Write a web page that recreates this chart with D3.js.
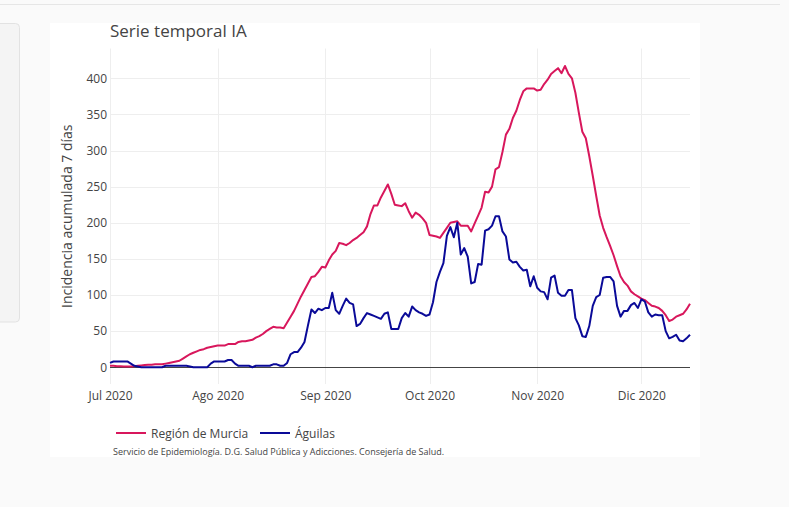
<!DOCTYPE html>
<html><head><meta charset="utf-8">
<script src="https://cdn.jsdelivr.net/npm/d3@7"></script>
<style>
html,body{margin:0;padding:0;background:#fafafa;}
svg{display:block;font-family:"Open Sans",sans-serif;}
</style></head>
<body>
<svg id="chart" width="789" height="507"></svg>
<script>
const startDate = "2020-07-01";
const murcia = [2,2,1.5,1.5,1,1,1,1.5,2,2.5,
3,3.5,3.5,4,4,4,5,6,7,8,
9,12,15,18,20,22,24,25,27,28,
29,30,30,30,32,32,32,35,36,36,
37,38,41,43,46,50,53,56,55,55,
54,62,70,78,88,98,107,116,125,126,
132,139,138,148,156,161,172,171,169,172,
176,179,183,187,195,212,224,224,235,244,
253,240,225,224,223,227,216,207,214,211,
206,200,183,182,181,179,186,193,200,201,
202,196,196,196,188,199,210,221,243,242,
250,274,277,298,322,330,345,355,370,382,
386,386,386,383,384,392,398,406,410,414,
407,417,406,400,380,352,326,317,292,265,
237,210,193,180,168,155,140,126,118,113,
105,101,98,95,93,89,85,84,82,78,
72,64,66,70,72,74,80,88];
const aguilas = [6,8,8,8,8,8,5,2,1,0,
0,0,0,0,0,0,2,2,2,2,
2,2,2,1,0,0,0,0,0,5,
8,8,8,8,10,10,5,2,2,2,
2,0,2,2,2,2,2,4,4,2,
2,6,18,21,21,27,35,58,80,75,
81,79,82,82,103,79,74,85,95,89,
87,57,60,68,75,73,71,69,67,74,
76,53,53,53,68,75,70,84,79,76,
74,71,73,90,118,132,144,182,194,180,
200,156,165,153,116,118,143,142,189,191,
196,209,209,188,181,149,145,146,139,134,
135,112,126,110,105,104,94,124,127,103,
99,99,107,107,68,58,43,42,57,85,
97,100,124,125,125,119,85,70,78,78,
86,89,82,94,91,76,70,73,72,72,
50,40,42,45,37,36,40,45];
const seriesNames = ["Región de Murcia", "Águilas"];
const seriesColors = ["#d8175c", "#0a0a98"];
const monthTicks = ["2020-07-01","2020-08-01","2020-09-01","2020-10-01","2020-11-01","2020-12-01"];
const monthLabels = ["Jul 2020","Ago 2020","Sep 2020","Oct 2020","Nov 2020","Dic 2020"];
const yTicks = [0,50,100,150,200,250,300,350,400];
const title = "Serie temporal IA";
const yTitle = "Incidencia acumulada 7 días";
const source = "Servicio de Epidemiología. D.G. Salud Pública y Adicciones. Consejería de Salud.";

const parse = d3.utcParse("%Y-%m-%d");
const t0 = parse(startDate);
const dates = murcia.map((_, i) => d3.utcDay.offset(t0, i));

const svg = d3.select("#chart");
// page decoration
svg.append("line").attr("x1",0).attr("x2",780).attr("y1",4.5).attr("y2",4.5).attr("stroke","#e6e6e6");
svg.append("rect").attr("x",-6).attr("y",23.5).attr("width",25.5).attr("height",298.5).attr("rx",4)
  .attr("fill","#f4f4f4").attr("stroke","#e2e2e2");
svg.append("rect").attr("x",50).attr("y",23).attr("width",650).attr("height",434).attr("fill","#fff");

const L = 110, R = 690, T = 48.5, B = 384;
const x = d3.scaleUtc().domain([dates[0], dates[dates.length-1]]).range([L, R]);
const y = d3.scaleLinear().domain([-23.2, 441.2]).range([B, T]);

// gridlines
const g = svg.append("g");
g.selectAll(".vg").data(monthTicks.map(parse)).join("line")
  .attr("x1", d => Math.round(x(d))+0.5).attr("x2", d => Math.round(x(d))+0.5)
  .attr("y1", T).attr("y2", B).attr("stroke", "#eeeeee").attr("stroke-width", 1);
g.selectAll(".hg").data(yTicks.filter(v => v !== 0)).join("line")
  .attr("x1", L).attr("x2", R)
  .attr("y1", d => Math.round(y(d))+0.5).attr("y2", d => Math.round(y(d))+0.5)
  .attr("stroke", "#eeeeee").attr("stroke-width", 1);

// axes
const yAxis = d3.axisLeft(y).tickValues(yTicks).tickSize(0).tickPadding(3);
const yg = svg.append("g").attr("transform", `translate(${L},0)`).call(yAxis);
yg.select(".domain").remove();
yg.selectAll("text").attr("fill","#444").style("font-size","12px").style("font-family","Open Sans");

const xAxis = d3.axisBottom(x).tickValues(monthTicks.map(parse))
  .tickFormat((d, i) => monthLabels[i]).tickSize(0).tickPadding(7);
const xg = svg.append("g").attr("transform", `translate(0,${B})`).call(xAxis);
xg.select(".domain").remove();
xg.selectAll("text").attr("fill","#444").style("font-size","12px").style("font-family","Open Sans");

// zero line
svg.append("line").attr("x1", L).attr("x2", R)
  .attr("y1", Math.round(y(0))+0.5).attr("y2", Math.round(y(0))+0.5)
  .attr("stroke", "#444").attr("stroke-width", 1);

// lines
const line = d3.line().x((d, i) => x(dates[i])).y(d => y(d));
[murcia, aguilas].forEach((s, k) => {
  svg.append("path").datum(s).attr("d", line).attr("fill","none")
    .attr("stroke", seriesColors[k]).attr("stroke-width", 2).attr("stroke-linejoin","round");
});

// title
svg.append("text").attr("x", 110).attr("y", 37).text(title)
  .attr("fill","#444").style("font-size","17px");
// y title
svg.append("text").attr("transform", `translate(72,${(T+B)/2}) rotate(-90)`)
  .attr("text-anchor","middle").text(yTitle).attr("fill","#444").style("font-size","14px");

// legend
const legX = [116, 260];
seriesNames.forEach((n, k) => {
  svg.append("line").attr("x1", legX[k]).attr("x2", legX[k]+30).attr("y1", 433).attr("y2", 433)
    .attr("stroke", seriesColors[k]).attr("stroke-width", 2);
  svg.append("text").attr("x", legX[k]+35).attr("y", 437.5).text(n)
    .attr("fill","#444").style("font-size","12px");
});
// source
svg.append("text").attr("x", 113).attr("y", 455).text(source)
  .attr("fill","#444").style("font-size","9px");
</script>
</body></html>
